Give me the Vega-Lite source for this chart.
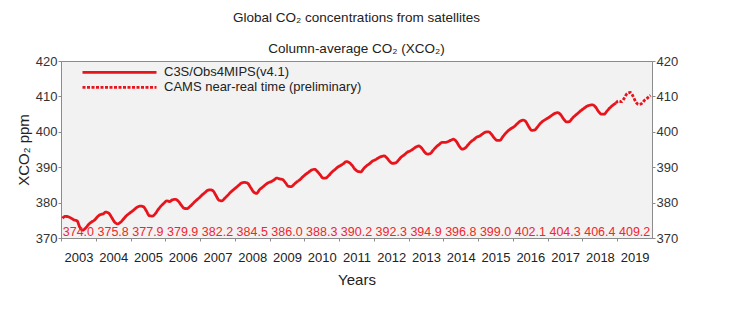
{
  "$schema": "https://vega.github.io/schema/vega-lite/v6.json",
  "autosize": {"type": "none"},
  "width": 591,
  "height": 177,
  "padding": {"left": 61, "top": 61, "right": 85, "bottom": 98},
  "background": "white",
  "config": {
    "font": "Liberation Sans",
    "view": {"fill": "#f2f2f2", "stroke": "#8c8c8c", "strokeWidth": 1},
    "axis": {"grid": false, "labelFont": "Liberation Sans", "titleFont": "Liberation Sans", "domainColor": "#8c8c8c", "tickColor": "#8c8c8c"},
    "axisX": {"labelOverlap": false, "labelFlush": false}
  },
  "title": {
    "text": "Global CO₂ concentrations from satellites",
    "subtitle": "Column-average CO₂ (XCO₂)",
    "anchor": "middle",
    "frame": "group",
    "fontSize": 13.5,
    "fontWeight": "normal",
    "color": "#222222",
    "subtitleFontSize": 13.5,
    "subtitleColor": "#222222",
    "subtitlePadding": 17,
    "offset": 0
  },
  "datasets": {
    "monthly": [
      {"series": "C3S/Obs4MIPS(v4.1)", "t": 2003.042, "v": 375.6},
      {"series": "C3S/Obs4MIPS(v4.1)", "t": 2003.125, "v": 376.1},
      {"series": "C3S/Obs4MIPS(v4.1)", "t": 2003.208, "v": 376.0},
      {"series": "C3S/Obs4MIPS(v4.1)", "t": 2003.292, "v": 375.6},
      {"series": "C3S/Obs4MIPS(v4.1)", "t": 2003.375, "v": 375.1},
      {"series": "C3S/Obs4MIPS(v4.1)", "t": 2003.458, "v": 374.9},
      {"series": "C3S/Obs4MIPS(v4.1)", "t": 2003.542, "v": 373.0},
      {"series": "C3S/Obs4MIPS(v4.1)", "t": 2003.625, "v": 372.2},
      {"series": "C3S/Obs4MIPS(v4.1)", "t": 2003.708, "v": 372.8},
      {"series": "C3S/Obs4MIPS(v4.1)", "t": 2003.792, "v": 373.8},
      {"series": "C3S/Obs4MIPS(v4.1)", "t": 2003.875, "v": 374.5},
      {"series": "C3S/Obs4MIPS(v4.1)", "t": 2003.958, "v": 375.0},
      {"series": "C3S/Obs4MIPS(v4.1)", "t": 2004.042, "v": 375.9},
      {"series": "C3S/Obs4MIPS(v4.1)", "t": 2004.125, "v": 376.6},
      {"series": "C3S/Obs4MIPS(v4.1)", "t": 2004.208, "v": 376.8},
      {"series": "C3S/Obs4MIPS(v4.1)", "t": 2004.292, "v": 377.3},
      {"series": "C3S/Obs4MIPS(v4.1)", "t": 2004.375, "v": 377.0},
      {"series": "C3S/Obs4MIPS(v4.1)", "t": 2004.458, "v": 375.8},
      {"series": "C3S/Obs4MIPS(v4.1)", "t": 2004.542, "v": 374.5},
      {"series": "C3S/Obs4MIPS(v4.1)", "t": 2004.625, "v": 374.0},
      {"series": "C3S/Obs4MIPS(v4.1)", "t": 2004.708, "v": 374.4},
      {"series": "C3S/Obs4MIPS(v4.1)", "t": 2004.792, "v": 375.3},
      {"series": "C3S/Obs4MIPS(v4.1)", "t": 2004.875, "v": 376.2},
      {"series": "C3S/Obs4MIPS(v4.1)", "t": 2004.958, "v": 376.9},
      {"series": "C3S/Obs4MIPS(v4.1)", "t": 2005.042, "v": 377.5},
      {"series": "C3S/Obs4MIPS(v4.1)", "t": 2005.125, "v": 378.2},
      {"series": "C3S/Obs4MIPS(v4.1)", "t": 2005.208, "v": 378.8},
      {"series": "C3S/Obs4MIPS(v4.1)", "t": 2005.292, "v": 379.0},
      {"series": "C3S/Obs4MIPS(v4.1)", "t": 2005.375, "v": 378.8},
      {"series": "C3S/Obs4MIPS(v4.1)", "t": 2005.458, "v": 377.6},
      {"series": "C3S/Obs4MIPS(v4.1)", "t": 2005.542, "v": 376.3},
      {"series": "C3S/Obs4MIPS(v4.1)", "t": 2005.625, "v": 376.2},
      {"series": "C3S/Obs4MIPS(v4.1)", "t": 2005.708, "v": 376.8},
      {"series": "C3S/Obs4MIPS(v4.1)", "t": 2005.792, "v": 378.0},
      {"series": "C3S/Obs4MIPS(v4.1)", "t": 2005.875, "v": 379.0},
      {"series": "C3S/Obs4MIPS(v4.1)", "t": 2005.958, "v": 379.8},
      {"series": "C3S/Obs4MIPS(v4.1)", "t": 2006.042, "v": 380.5},
      {"series": "C3S/Obs4MIPS(v4.1)", "t": 2006.125, "v": 380.3},
      {"series": "C3S/Obs4MIPS(v4.1)", "t": 2006.208, "v": 380.8},
      {"series": "C3S/Obs4MIPS(v4.1)", "t": 2006.292, "v": 380.9},
      {"series": "C3S/Obs4MIPS(v4.1)", "t": 2006.375, "v": 380.4},
      {"series": "C3S/Obs4MIPS(v4.1)", "t": 2006.458, "v": 379.3},
      {"series": "C3S/Obs4MIPS(v4.1)", "t": 2006.542, "v": 378.4},
      {"series": "C3S/Obs4MIPS(v4.1)", "t": 2006.625, "v": 378.3},
      {"series": "C3S/Obs4MIPS(v4.1)", "t": 2006.708, "v": 378.9},
      {"series": "C3S/Obs4MIPS(v4.1)", "t": 2006.792, "v": 379.7},
      {"series": "C3S/Obs4MIPS(v4.1)", "t": 2006.875, "v": 380.5},
      {"series": "C3S/Obs4MIPS(v4.1)", "t": 2006.958, "v": 381.2},
      {"series": "C3S/Obs4MIPS(v4.1)", "t": 2007.042, "v": 382.0},
      {"series": "C3S/Obs4MIPS(v4.1)", "t": 2007.125, "v": 382.7},
      {"series": "C3S/Obs4MIPS(v4.1)", "t": 2007.208, "v": 383.4},
      {"series": "C3S/Obs4MIPS(v4.1)", "t": 2007.292, "v": 383.6},
      {"series": "C3S/Obs4MIPS(v4.1)", "t": 2007.375, "v": 383.3},
      {"series": "C3S/Obs4MIPS(v4.1)", "t": 2007.458, "v": 382.0},
      {"series": "C3S/Obs4MIPS(v4.1)", "t": 2007.542, "v": 380.7},
      {"series": "C3S/Obs4MIPS(v4.1)", "t": 2007.625, "v": 380.5},
      {"series": "C3S/Obs4MIPS(v4.1)", "t": 2007.708, "v": 381.2},
      {"series": "C3S/Obs4MIPS(v4.1)", "t": 2007.792, "v": 382.0},
      {"series": "C3S/Obs4MIPS(v4.1)", "t": 2007.875, "v": 382.9},
      {"series": "C3S/Obs4MIPS(v4.1)", "t": 2007.958, "v": 383.6},
      {"series": "C3S/Obs4MIPS(v4.1)", "t": 2008.042, "v": 384.3},
      {"series": "C3S/Obs4MIPS(v4.1)", "t": 2008.125, "v": 385.0},
      {"series": "C3S/Obs4MIPS(v4.1)", "t": 2008.208, "v": 385.6},
      {"series": "C3S/Obs4MIPS(v4.1)", "t": 2008.292, "v": 385.7},
      {"series": "C3S/Obs4MIPS(v4.1)", "t": 2008.375, "v": 385.4},
      {"series": "C3S/Obs4MIPS(v4.1)", "t": 2008.458, "v": 384.2},
      {"series": "C3S/Obs4MIPS(v4.1)", "t": 2008.542, "v": 383.0},
      {"series": "C3S/Obs4MIPS(v4.1)", "t": 2008.625, "v": 382.6},
      {"series": "C3S/Obs4MIPS(v4.1)", "t": 2008.708, "v": 383.6},
      {"series": "C3S/Obs4MIPS(v4.1)", "t": 2008.792, "v": 384.3},
      {"series": "C3S/Obs4MIPS(v4.1)", "t": 2008.875, "v": 385.0},
      {"series": "C3S/Obs4MIPS(v4.1)", "t": 2008.958, "v": 385.6},
      {"series": "C3S/Obs4MIPS(v4.1)", "t": 2009.042, "v": 385.9},
      {"series": "C3S/Obs4MIPS(v4.1)", "t": 2009.125, "v": 386.4},
      {"series": "C3S/Obs4MIPS(v4.1)", "t": 2009.208, "v": 386.9},
      {"series": "C3S/Obs4MIPS(v4.1)", "t": 2009.292, "v": 386.7},
      {"series": "C3S/Obs4MIPS(v4.1)", "t": 2009.375, "v": 386.5},
      {"series": "C3S/Obs4MIPS(v4.1)", "t": 2009.458, "v": 385.6},
      {"series": "C3S/Obs4MIPS(v4.1)", "t": 2009.542, "v": 384.6},
      {"series": "C3S/Obs4MIPS(v4.1)", "t": 2009.625, "v": 384.5},
      {"series": "C3S/Obs4MIPS(v4.1)", "t": 2009.708, "v": 385.2},
      {"series": "C3S/Obs4MIPS(v4.1)", "t": 2009.792, "v": 385.9},
      {"series": "C3S/Obs4MIPS(v4.1)", "t": 2009.875, "v": 386.5},
      {"series": "C3S/Obs4MIPS(v4.1)", "t": 2009.958, "v": 387.3},
      {"series": "C3S/Obs4MIPS(v4.1)", "t": 2010.042, "v": 388.0},
      {"series": "C3S/Obs4MIPS(v4.1)", "t": 2010.125, "v": 388.6},
      {"series": "C3S/Obs4MIPS(v4.1)", "t": 2010.208, "v": 389.2},
      {"series": "C3S/Obs4MIPS(v4.1)", "t": 2010.292, "v": 389.4},
      {"series": "C3S/Obs4MIPS(v4.1)", "t": 2010.375, "v": 388.8},
      {"series": "C3S/Obs4MIPS(v4.1)", "t": 2010.458, "v": 387.8},
      {"series": "C3S/Obs4MIPS(v4.1)", "t": 2010.542, "v": 386.9},
      {"series": "C3S/Obs4MIPS(v4.1)", "t": 2010.625, "v": 387.0},
      {"series": "C3S/Obs4MIPS(v4.1)", "t": 2010.708, "v": 387.7},
      {"series": "C3S/Obs4MIPS(v4.1)", "t": 2010.792, "v": 388.6},
      {"series": "C3S/Obs4MIPS(v4.1)", "t": 2010.875, "v": 389.3},
      {"series": "C3S/Obs4MIPS(v4.1)", "t": 2010.958, "v": 390.0},
      {"series": "C3S/Obs4MIPS(v4.1)", "t": 2011.042, "v": 390.5},
      {"series": "C3S/Obs4MIPS(v4.1)", "t": 2011.125, "v": 391.0},
      {"series": "C3S/Obs4MIPS(v4.1)", "t": 2011.208, "v": 391.6},
      {"series": "C3S/Obs4MIPS(v4.1)", "t": 2011.292, "v": 391.3},
      {"series": "C3S/Obs4MIPS(v4.1)", "t": 2011.375, "v": 390.5},
      {"series": "C3S/Obs4MIPS(v4.1)", "t": 2011.458, "v": 389.4},
      {"series": "C3S/Obs4MIPS(v4.1)", "t": 2011.542, "v": 388.8},
      {"series": "C3S/Obs4MIPS(v4.1)", "t": 2011.625, "v": 388.7},
      {"series": "C3S/Obs4MIPS(v4.1)", "t": 2011.708, "v": 389.6},
      {"series": "C3S/Obs4MIPS(v4.1)", "t": 2011.792, "v": 390.4},
      {"series": "C3S/Obs4MIPS(v4.1)", "t": 2011.875, "v": 391.0},
      {"series": "C3S/Obs4MIPS(v4.1)", "t": 2011.958, "v": 391.7},
      {"series": "C3S/Obs4MIPS(v4.1)", "t": 2012.042, "v": 392.1},
      {"series": "C3S/Obs4MIPS(v4.1)", "t": 2012.125, "v": 392.6},
      {"series": "C3S/Obs4MIPS(v4.1)", "t": 2012.208, "v": 393.0},
      {"series": "C3S/Obs4MIPS(v4.1)", "t": 2012.292, "v": 393.2},
      {"series": "C3S/Obs4MIPS(v4.1)", "t": 2012.375, "v": 392.6},
      {"series": "C3S/Obs4MIPS(v4.1)", "t": 2012.458, "v": 391.6},
      {"series": "C3S/Obs4MIPS(v4.1)", "t": 2012.542, "v": 391.1},
      {"series": "C3S/Obs4MIPS(v4.1)", "t": 2012.625, "v": 391.2},
      {"series": "C3S/Obs4MIPS(v4.1)", "t": 2012.708, "v": 392.0},
      {"series": "C3S/Obs4MIPS(v4.1)", "t": 2012.792, "v": 392.9},
      {"series": "C3S/Obs4MIPS(v4.1)", "t": 2012.875, "v": 393.5},
      {"series": "C3S/Obs4MIPS(v4.1)", "t": 2012.958, "v": 394.2},
      {"series": "C3S/Obs4MIPS(v4.1)", "t": 2013.042, "v": 394.6},
      {"series": "C3S/Obs4MIPS(v4.1)", "t": 2013.125, "v": 395.1},
      {"series": "C3S/Obs4MIPS(v4.1)", "t": 2013.208, "v": 395.7},
      {"series": "C3S/Obs4MIPS(v4.1)", "t": 2013.292, "v": 396.0},
      {"series": "C3S/Obs4MIPS(v4.1)", "t": 2013.375, "v": 395.4},
      {"series": "C3S/Obs4MIPS(v4.1)", "t": 2013.458, "v": 394.3},
      {"series": "C3S/Obs4MIPS(v4.1)", "t": 2013.542, "v": 393.7},
      {"series": "C3S/Obs4MIPS(v4.1)", "t": 2013.625, "v": 393.9},
      {"series": "C3S/Obs4MIPS(v4.1)", "t": 2013.708, "v": 394.8},
      {"series": "C3S/Obs4MIPS(v4.1)", "t": 2013.792, "v": 395.7},
      {"series": "C3S/Obs4MIPS(v4.1)", "t": 2013.875, "v": 396.4},
      {"series": "C3S/Obs4MIPS(v4.1)", "t": 2013.958, "v": 397.0},
      {"series": "C3S/Obs4MIPS(v4.1)", "t": 2014.042, "v": 397.0},
      {"series": "C3S/Obs4MIPS(v4.1)", "t": 2014.125, "v": 397.2},
      {"series": "C3S/Obs4MIPS(v4.1)", "t": 2014.208, "v": 397.6},
      {"series": "C3S/Obs4MIPS(v4.1)", "t": 2014.292, "v": 397.9},
      {"series": "C3S/Obs4MIPS(v4.1)", "t": 2014.375, "v": 397.2},
      {"series": "C3S/Obs4MIPS(v4.1)", "t": 2014.458, "v": 395.9},
      {"series": "C3S/Obs4MIPS(v4.1)", "t": 2014.542, "v": 395.1},
      {"series": "C3S/Obs4MIPS(v4.1)", "t": 2014.625, "v": 395.4},
      {"series": "C3S/Obs4MIPS(v4.1)", "t": 2014.708, "v": 396.3},
      {"series": "C3S/Obs4MIPS(v4.1)", "t": 2014.792, "v": 397.2},
      {"series": "C3S/Obs4MIPS(v4.1)", "t": 2014.875, "v": 397.8},
      {"series": "C3S/Obs4MIPS(v4.1)", "t": 2014.958, "v": 398.5},
      {"series": "C3S/Obs4MIPS(v4.1)", "t": 2015.042, "v": 398.8},
      {"series": "C3S/Obs4MIPS(v4.1)", "t": 2015.125, "v": 399.4},
      {"series": "C3S/Obs4MIPS(v4.1)", "t": 2015.208, "v": 399.9},
      {"series": "C3S/Obs4MIPS(v4.1)", "t": 2015.292, "v": 400.0},
      {"series": "C3S/Obs4MIPS(v4.1)", "t": 2015.375, "v": 399.4},
      {"series": "C3S/Obs4MIPS(v4.1)", "t": 2015.458, "v": 398.3},
      {"series": "C3S/Obs4MIPS(v4.1)", "t": 2015.542, "v": 397.6},
      {"series": "C3S/Obs4MIPS(v4.1)", "t": 2015.625, "v": 397.6},
      {"series": "C3S/Obs4MIPS(v4.1)", "t": 2015.708, "v": 398.6},
      {"series": "C3S/Obs4MIPS(v4.1)", "t": 2015.792, "v": 399.6},
      {"series": "C3S/Obs4MIPS(v4.1)", "t": 2015.875, "v": 400.4},
      {"series": "C3S/Obs4MIPS(v4.1)", "t": 2015.958, "v": 401.0},
      {"series": "C3S/Obs4MIPS(v4.1)", "t": 2016.042, "v": 401.5},
      {"series": "C3S/Obs4MIPS(v4.1)", "t": 2016.125, "v": 402.3},
      {"series": "C3S/Obs4MIPS(v4.1)", "t": 2016.208, "v": 403.0},
      {"series": "C3S/Obs4MIPS(v4.1)", "t": 2016.292, "v": 403.3},
      {"series": "C3S/Obs4MIPS(v4.1)", "t": 2016.375, "v": 402.8},
      {"series": "C3S/Obs4MIPS(v4.1)", "t": 2016.458, "v": 401.4},
      {"series": "C3S/Obs4MIPS(v4.1)", "t": 2016.542, "v": 400.4},
      {"series": "C3S/Obs4MIPS(v4.1)", "t": 2016.625, "v": 400.5},
      {"series": "C3S/Obs4MIPS(v4.1)", "t": 2016.708, "v": 401.4},
      {"series": "C3S/Obs4MIPS(v4.1)", "t": 2016.792, "v": 402.4},
      {"series": "C3S/Obs4MIPS(v4.1)", "t": 2016.875, "v": 403.1},
      {"series": "C3S/Obs4MIPS(v4.1)", "t": 2016.958, "v": 403.6},
      {"series": "C3S/Obs4MIPS(v4.1)", "t": 2017.042, "v": 404.1},
      {"series": "C3S/Obs4MIPS(v4.1)", "t": 2017.125, "v": 404.7},
      {"series": "C3S/Obs4MIPS(v4.1)", "t": 2017.208, "v": 405.2},
      {"series": "C3S/Obs4MIPS(v4.1)", "t": 2017.292, "v": 405.4},
      {"series": "C3S/Obs4MIPS(v4.1)", "t": 2017.375, "v": 404.8},
      {"series": "C3S/Obs4MIPS(v4.1)", "t": 2017.458, "v": 403.6},
      {"series": "C3S/Obs4MIPS(v4.1)", "t": 2017.542, "v": 402.8},
      {"series": "C3S/Obs4MIPS(v4.1)", "t": 2017.625, "v": 402.9},
      {"series": "C3S/Obs4MIPS(v4.1)", "t": 2017.708, "v": 403.8},
      {"series": "C3S/Obs4MIPS(v4.1)", "t": 2017.792, "v": 404.6},
      {"series": "C3S/Obs4MIPS(v4.1)", "t": 2017.875, "v": 405.3},
      {"series": "C3S/Obs4MIPS(v4.1)", "t": 2017.958, "v": 406.0},
      {"series": "C3S/Obs4MIPS(v4.1)", "t": 2018.042, "v": 406.6},
      {"series": "C3S/Obs4MIPS(v4.1)", "t": 2018.125, "v": 407.2},
      {"series": "C3S/Obs4MIPS(v4.1)", "t": 2018.208, "v": 407.5},
      {"series": "C3S/Obs4MIPS(v4.1)", "t": 2018.292, "v": 407.6},
      {"series": "C3S/Obs4MIPS(v4.1)", "t": 2018.375, "v": 407.0},
      {"series": "C3S/Obs4MIPS(v4.1)", "t": 2018.458, "v": 405.8},
      {"series": "C3S/Obs4MIPS(v4.1)", "t": 2018.542, "v": 405.0},
      {"series": "C3S/Obs4MIPS(v4.1)", "t": 2018.625, "v": 405.0},
      {"series": "C3S/Obs4MIPS(v4.1)", "t": 2018.708, "v": 405.9},
      {"series": "C3S/Obs4MIPS(v4.1)", "t": 2018.792, "v": 406.8},
      {"series": "C3S/Obs4MIPS(v4.1)", "t": 2018.875, "v": 407.5},
      {"series": "C3S/Obs4MIPS(v4.1)", "t": 2018.958, "v": 408.1},
      {"series": "CAMS near-real time (preliminary)", "t": 2018.958, "v": 408.1},
      {"series": "CAMS near-real time (preliminary)", "t": 2019.042, "v": 408.7},
      {"series": "CAMS near-real time (preliminary)", "t": 2019.125, "v": 408.5},
      {"series": "CAMS near-real time (preliminary)", "t": 2019.208, "v": 409.6},
      {"series": "CAMS near-real time (preliminary)", "t": 2019.292, "v": 410.9},
      {"series": "CAMS near-real time (preliminary)", "t": 2019.375, "v": 411.1},
      {"series": "CAMS near-real time (preliminary)", "t": 2019.458, "v": 410.0},
      {"series": "CAMS near-real time (preliminary)", "t": 2019.542, "v": 408.3},
      {"series": "CAMS near-real time (preliminary)", "t": 2019.625, "v": 407.7},
      {"series": "CAMS near-real time (preliminary)", "t": 2019.708, "v": 408.0},
      {"series": "CAMS near-real time (preliminary)", "t": 2019.792, "v": 409.0},
      {"series": "CAMS near-real time (preliminary)", "t": 2019.875, "v": 409.6},
      {"series": "CAMS near-real time (preliminary)", "t": 2019.958, "v": 410.3}
    ],
    "annual": [
      {"t": 2003.5, "mean": "374.0"},
      {"t": 2004.5, "mean": "375.8"},
      {"t": 2005.5, "mean": "377.9"},
      {"t": 2006.5, "mean": "379.9"},
      {"t": 2007.5, "mean": "382.2"},
      {"t": 2008.5, "mean": "384.5"},
      {"t": 2009.5, "mean": "386.0"},
      {"t": 2010.5, "mean": "388.3"},
      {"t": 2011.5, "mean": "390.2"},
      {"t": 2012.5, "mean": "392.3"},
      {"t": 2013.5, "mean": "394.9"},
      {"t": 2014.5, "mean": "396.8"},
      {"t": 2015.5, "mean": "399.0"},
      {"t": 2016.5, "mean": "402.1"},
      {"t": 2017.5, "mean": "404.3"},
      {"t": 2018.5, "mean": "406.4"},
      {"t": 2019.5, "mean": "409.2"}
    ]
  },
  "encoding": {
    "x": {
      "field": "t", "type": "quantitative",
      "scale": {"domain": [2003, 2020], "nice": false, "zero": false},
      "axis": {
        "title": "Years", "titleFontSize": 15, "titleFontWeight": "normal", "titleColor": "#222222", "titlePadding": 8,
        "values": [2003, 2004, 2005, 2006, 2007, 2008, 2009, 2010, 2011, 2012, 2013, 2014, 2015, 2016, 2017, 2018, 2019],
        "labelExpr": "format(datum.value, 'd')", "labelOffset": 17.4, "labelFlush": false, "labelOverlap": false, "labelSeparation": 0,
        "labelFontSize": 13, "labelColor": "#222222", "labelPadding": 10, "tickSize": 3
      }
    }
  },
  "layer": [
    {
      "data": {"name": "monthly"},
      "mark": {"type": "line", "strokeWidth": 2.8, "interpolate": "monotone"},
      "encoding": {
        "y": {
          "field": "v", "type": "quantitative",
          "scale": {"domain": [370, 420], "nice": false, "zero": false},
          "axis": {
            "orient": "left", "title": "XCO₂ ppm", "titleFontSize": 15, "titleFontWeight": "normal", "titleColor": "#222222", "titlePadding": 4,
            "values": [370, 380, 390, 400, 410, 420], "labelFontSize": 13, "labelColor": "#333333", "tickSize": 3, "labelPadding": 1
          }
        },
        "color": {
          "field": "series", "type": "nominal",
          "scale": {"domain": ["C3S/Obs4MIPS(v4.1)", "CAMS near-real time (preliminary)"], "range": ["#e8141c", "#e8141c"]},
          "legend": {
            "title": null, "orient": "none", "legendX": 20, "legendY": 4,
            "symbolType": "stroke", "symbolSize": 5476, "symbolStrokeWidth": 2.8, "clipHeight": 14.6,
            "labelFontSize": 13, "labelColor": "#222222", "labelOffset": 6, "rowPadding": 0, "padding": 0, "labelLimit": 400
          }
        },
        "strokeDash": {
          "field": "series", "type": "nominal",
          "scale": {"domain": ["C3S/Obs4MIPS(v4.1)", "CAMS near-real time (preliminary)"], "range": [[1, 0], [3, 1.5]]},
          "legend": {
            "title": null, "orient": "none", "legendX": 20, "legendY": 4,
            "symbolType": "stroke", "symbolSize": 5476, "symbolStrokeWidth": 2.8, "clipHeight": 14.6,
            "labelFontSize": 13, "labelColor": "#222222", "labelOffset": 6, "rowPadding": 0, "padding": 0, "labelLimit": 400
          }
        }
      }
    },
    {
      "data": {"name": "monthly"},
      "mark": {"type": "line", "opacity": 0},
      "encoding": {
        "y": {
          "field": "v", "type": "quantitative",
          "axis": {
            "orient": "right", "title": null,
            "values": [370, 380, 390, 400, 410, 420], "labelFontSize": 13, "labelColor": "#333333", "tickSize": 3, "labelPadding": 1
          }
        }
      }
    },
    {
      "data": {"name": "annual"},
      "mark": {"type": "text", "fontSize": 12.5, "color": "#f0262c", "align": "center", "baseline": "middle"},
      "encoding": {
        "y": {"datum": 371.7, "type": "quantitative", "axis": null},
        "text": {"field": "mean", "type": "nominal"}
      }
    }
  ],
  "resolve": {"axis": {"y": "independent"}}
}
